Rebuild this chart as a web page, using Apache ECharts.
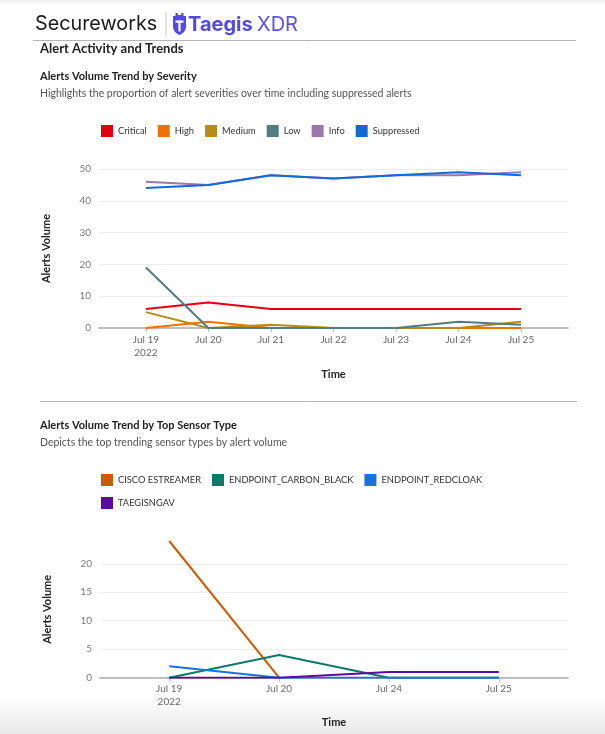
<!DOCTYPE html>
<html>
<head>
<meta charset="utf-8">
<script src="https://cdn.jsdelivr.net/npm/echarts@6/dist/echarts.min.js"></script>
<style>
html,body{margin:0;padding:0;background:#fff;}
#c{width:605px;height:734px;}
</style>
</head>
<body>
<div id="c"></div>
<script>
// ---- Data ----
const sevDays = ['Jul 19\n2022', 'Jul 20', 'Jul 21', 'Jul 22', 'Jul 23', 'Jul 24', 'Jul 25'];
const critical   = [6, 8, 6, 6, 6, 6, 6];
const high       = [0, 2, 0, 0, 0, 0, 0];
const medium     = [5, 0, 1, 0, 0, 0, 2];
const low        = [19, 0, 0, 0, 0, 2, 1];
const info       = [46, 45, 48, 47, 48, 48, 49];
const suppressed = [44, 45, 48, 47, 48, 49, 48];

const sensorDays = ['Jul 19\n2022', 'Jul 20', 'Jul 24', 'Jul 25'];
const ciscoEstreamer      = [24, 0, null, null];
const endpointCarbonBlack = [0, 4, 0, 0];
const endpointRedcloak    = [2, 0, 0, 0];
const taegisNgav          = [0, 0, 1, 1];

// ---- helpers ----
const FONT = 'Lato, "Open Sans", sans-serif';
function pts(arr) { return arr.map((v, i) => [i, v]); }
function idx(n) { return Array.from({length: n}, (_, i) => i); }

function xAxisFor(cats, gridIndex, pad, nameGap) {
  return {
    type: 'value', gridIndex: gridIndex,
    min: -pad, max: cats.length - 1 + pad,
    name: 'Time', nameLocation: 'middle', nameGap: nameGap,
    nameTextStyle: {fontFamily: FONT, fontSize: 11, fontWeight: 'bold', color: '#222'},
    splitLine: {show: false},
    axisLine: {show: true, lineStyle: {color: '#bdbdbd', width: 2}},
    axisTick: {show: true, customValues: idx(cats.length), length: 4, lineStyle: {color: '#bdbdbd'}},
    axisLabel: {
      customValues: idx(cats.length),
      formatter: v => cats[Math.round(v)] || '',
      fontFamily: FONT, fontSize: 10, color: '#666', lineHeight: 13, margin: 5
    }
  };
}
function yAxisFor(gridIndex, max, interval) {
  return {
    type: 'value', gridIndex: gridIndex, min: 0, max: max, interval: interval,
    name: 'Alerts Volume', nameLocation: 'middle', nameGap: 47,
    nameTextStyle: {fontFamily: FONT, fontSize: 11, fontWeight: 'bold', color: '#222'},
    axisLine: {show: false}, axisTick: {show: false},
    axisLabel: {fontFamily: FONT, fontSize: 10, color: '#777', margin: 8,
      formatter: v => (v % interval === 0 ? String(v) : '')},
    splitLine: {show: true, showMaxLine: max % interval === 0, lineStyle: {color: '#ececec', width: 1}}
  };
}
function line(name, data, color, xi, yi) {
  return {
    name: name, type: 'line', xAxisIndex: xi, yAxisIndex: yi,
    data: pts(data), symbol: 'none', color: color,
    lineStyle: {width: 2, color: color}, emphasis: {disabled: true}, animation: false
  };
}

const sevColors = {Critical: '#e1000f', High: '#ef7004', Medium: '#b38d1a', Low: '#4f7d80', Info: '#9a78ab', Suppressed: '#106ad8'};
const senColors = {c: '#cc5a00', k: '#0b7a69', r: '#1a72df', t: '#5a0d9a'};

const graphicText = (x, y, text, size, weight, color, family) => ({
  type: 'text', x: x, y: y,
  style: {text: text, fontSize: size, fontWeight: weight, fill: color, fontFamily: family || FONT, verticalAlign: 'middle'}
});

const chart = echarts.init(document.getElementById('c'), null, {renderer: 'canvas'});
chart.setOption({
  animation: false,
  backgroundColor: '#fff',
  grid: [
    {left: 99, right: 37, top: 169, bottom: 734 - 328},
    {left: 100, right: 37, top: 541, bottom: 734 - 677.7}
  ],
  xAxis: [xAxisFor(sevDays, 0, 0.75, 41), xAxisFor(sensorDays, 1, 0.63, 39)],
  yAxis: [yAxisFor(0, 50, 10), yAxisFor(1, 24, 5)],
  legend: [
    {
      left: 101, top: 125, padding: 0, itemWidth: 12, itemHeight: 12, itemGap: 11, icon: 'rect',
      data: ['Critical', 'High', 'Medium', 'Low', 'Info', 'Suppressed'],
      textStyle: {fontFamily: FONT, fontSize: 9.3, color: '#333'}, selectedMode: false
    },
    {
      left: 101, top: 474, width: 400, padding: 0, itemWidth: 12, itemHeight: 12, itemGap: 11, icon: 'rect',
      data: ['CISCO ESTREAMER', 'ENDPOINT_CARBON_BLACK', 'ENDPOINT_REDCLOAK', 'TAEGISNGAV'],
      textStyle: {fontFamily: FONT, fontSize: 9.3, color: '#333'}, selectedMode: false
    }
  ],
  series: [
    line('Critical', critical, sevColors.Critical, 0, 0),
    line('High', high, sevColors.High, 0, 0),
    line('Medium', medium, sevColors.Medium, 0, 0),
    line('Low', low, sevColors.Low, 0, 0),
    line('Info', info, sevColors.Info, 0, 0),
    line('Suppressed', suppressed, sevColors.Suppressed, 0, 0),
    line('CISCO ESTREAMER', ciscoEstreamer, senColors.c, 1, 1),
    line('ENDPOINT_CARBON_BLACK', endpointCarbonBlack, senColors.k, 1, 1),
    line('ENDPOINT_REDCLOAK', endpointRedcloak, senColors.r, 1, 1),
    line('TAEGISNGAV', taegisNgav, senColors.t, 1, 1)
  ],
  graphic: [
    {type: 'rect', shape: {x: 0, y: 0, width: 605, height: 6}, silent: true,
      style: {fill: new echarts.graphic.LinearGradient(0, 0, 0, 1, [{offset: 0, color: 'rgba(0,0,0,0.06)'}, {offset: 1, color: 'rgba(0,0,0,0)'}])}},
    {type: 'rect', shape: {x: 0, y: 696, width: 605, height: 38}, silent: true, z: -1,
      style: {fill: new echarts.graphic.LinearGradient(0, 0, 0, 1, [{offset: 0, color: 'rgba(0,0,0,0)'}, {offset: 1, color: 'rgba(0,0,0,0.09)'}])}},
    graphicText(35, 24.5, 'Secureworks', 19.8, 'normal', '#1b1b1b', 'Inter, Roboto, sans-serif'),
    {type: 'line', shape: {x1: 166, y1: 12, x2: 166, y2: 37}, style: {stroke: '#c8c8c8', lineWidth: 1}},
    {type: 'polygon', shape: {points: [
        [173,16],[175.5,16],[175.5,13],[177.8,13],[177.8,15],[181.2,15],[181.2,13],[183.5,13],[183.5,16],[186,16],
        [186,27],[185.3,30],[183.5,32.5],[181.5,34],[179.5,35],[177.5,34],[175.5,32.5],[173.7,30],[173,27]]},
      style: {fill: '#5148e6'}},
    {type: 'rect', shape: {x: 175.5, y: 20.5, width: 8, height: 2.2}, style: {fill: '#fff'}},
    {type: 'rect', shape: {x: 178.4, y: 20.5, width: 2.2, height: 11}, style: {fill: '#fff'}},
    graphicText(188, 24.5, 'Taegis', 20, 'bold', '#5148e6', 'Inter, Roboto, sans-serif'),
    graphicText(257, 24.5, 'XDR', 20, 'normal', '#5a50ea', 'Inter, Roboto, sans-serif'),
    {type: 'line', shape: {x1: 33, y1: 40.5, x2: 576, y2: 40.5}, style: {stroke: '#b5b5b5', lineWidth: 1}},
    graphicText(40, 49, 'Alert Activity and Trends', 13, 'bold', '#222'),
    graphicText(40, 76, 'Alerts Volume Trend by Severity', 11, 'bold', '#222'),
    graphicText(40, 94, 'Highlights the proportion of alert severities over time including suppressed alerts', 10.5, 'normal', '#555'),
    {type: 'line', shape: {x1: 40, y1: 401.5, x2: 577, y2: 401.5}, style: {stroke: '#b5b5b5', lineWidth: 1}},
    graphicText(40, 425, 'Alerts Volume Trend by Top Sensor Type', 11, 'bold', '#222'),
    graphicText(40, 443, 'Depicts the top trending sensor types by alert volume', 10.5, 'normal', '#555')
  ]
});
</script>
</body>
</html>
